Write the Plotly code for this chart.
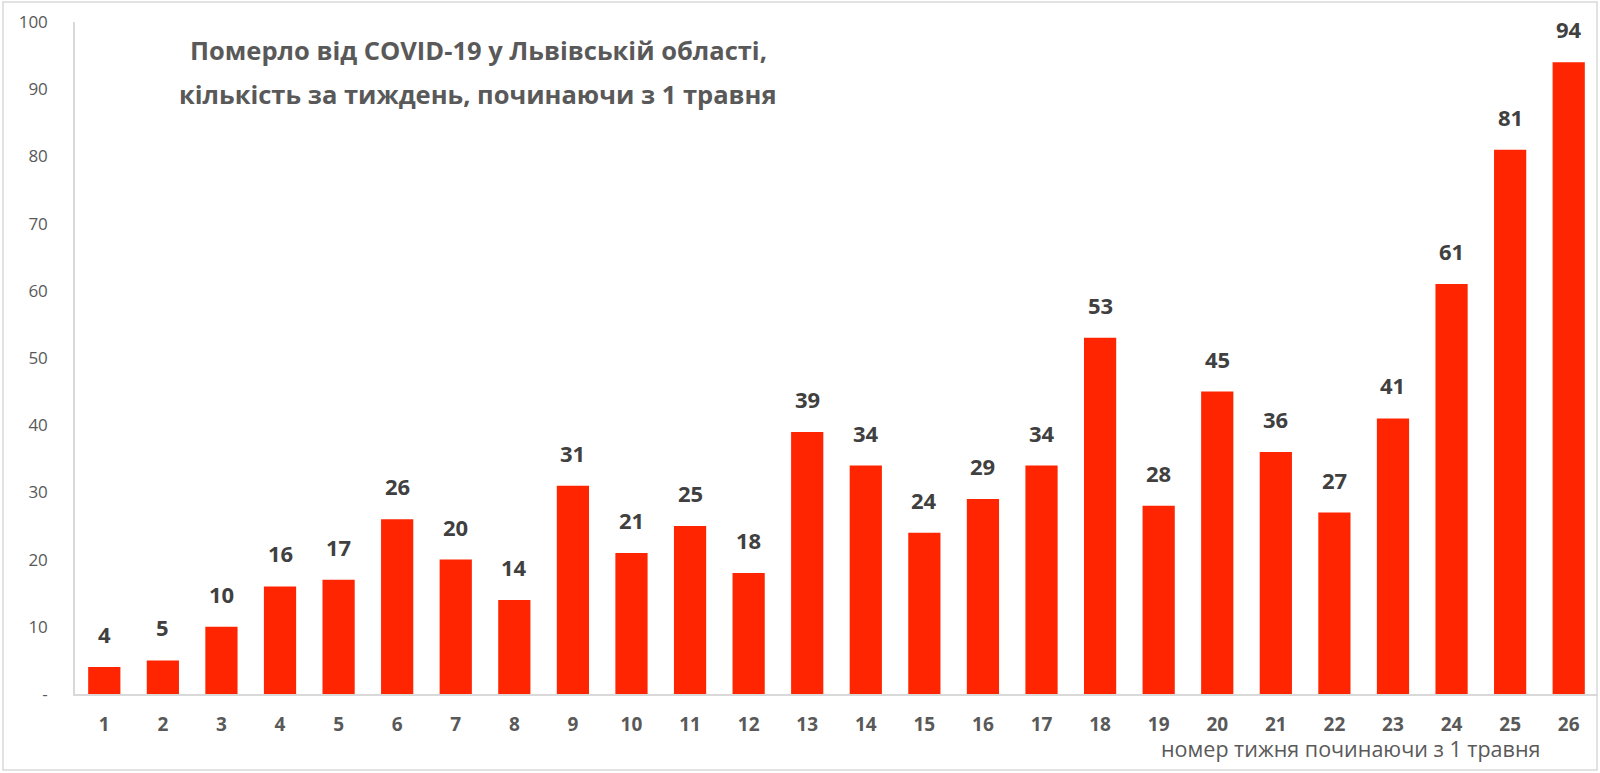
import plotly.graph_objects as go

weeks = list(range(1, 27))
deaths = [4, 5, 10, 16, 17, 26, 20, 14, 31, 21, 25, 18, 39, 34, 24, 29, 34, 53, 28, 45, 36, 27, 41, 61, 81, 94]
y_tickvals = [0, 10, 20, 30, 40, 50, 60, 70, 80, 90, 100]
y_ticktext = ["-", "10", "20", "30", "40", "50", "60", "70", "80", "90", "100"]
title_lines = ["Померло від COVID-19 у Львівській області,", "кількість за тиждень, починаючи з 1 травня"]
x_title = "номер тижня починаючи з 1 травня"

W, H = 1600, 773
ML, MR, MT, MB = 75, 2, 22, 79
pw, ph = W - ML - MR, H - MT - MB

FONT = "Open Sans"
RED = "#FF2500"

def px_x(p):
    return (p - ML) / pw

def px_y(p):
    return 1 - (p - MT) / ph

fig = go.Figure()
fig.add_trace(go.Bar(
    x=weeks, y=deaths, marker=dict(color=RED, line=dict(width=0)),
    width=0.55, hoverinfo="x+y",
))

annotations = []
for w, v in zip(weeks, deaths):
    annotations.append(dict(
        x=w, y=v, xref="x", yref="y", text=str(v), showarrow=False,
        yanchor="bottom", yshift=16,
        font=dict(family=FONT, size=22, color="#404040", weight="bold"),
    ))

for line, ypx in zip(title_lines, [50, 94]):
    annotations.append(dict(
        x=px_x(478), y=px_y(ypx), xref="paper", yref="paper",
        text=line, showarrow=False, xanchor="center", yanchor="middle",
        font=dict(family=FONT, size=25.5, color="#595959", weight="bold"),
    ))
annotations.append(dict(
    x=px_x(1350), y=px_y(748), xref="paper", yref="paper",
    text=x_title, showarrow=False, xanchor="center", yanchor="middle",
    font=dict(family=FONT, size=21.5, color="#595959"),
))

shapes = [dict(
    type="rect", xref="paper", yref="paper",
    x0=px_x(3), x1=px_x(1597), y0=px_y(770), y1=px_y(2),
    line=dict(color="#D9D9D9", width=1.5), fillcolor="rgba(0,0,0,0)", layer="below",
)]

fig.update_layout(
    width=W, height=H,
    margin=dict(l=ML, r=MR, t=MT, b=MB, autoexpand=False),
    paper_bgcolor="white", plot_bgcolor="white",
    showlegend=False,
    annotations=annotations, shapes=shapes,
    xaxis=dict(
        range=[0.5, 26.5], tickvals=weeks, ticktext=[str(w) for w in weeks],
        showgrid=False, zeroline=False, showline=True, linecolor="#D9D9D9", linewidth=1.5,
        ticks="", ticklabelstandoff=12, automargin=False,
        tickfont=dict(family=FONT, size=19, color="#595959", weight="bold"),
    ),
    yaxis=dict(
        range=[0, 100], tickvals=y_tickvals, ticktext=y_ticktext,
        showgrid=False, zeroline=False, showline=True, linecolor="#D9D9D9", linewidth=1.5,
        ticks="", ticklabelstandoff=22, automargin=False,
        tickfont=dict(family=FONT, size=17, color="#595959"),
    ),
)

fig.write_html(
    "out.html",
    config={"displayModeBar": False},
    post_script="document.body.style.margin='0';document.body.style.overflow='hidden';",
)
